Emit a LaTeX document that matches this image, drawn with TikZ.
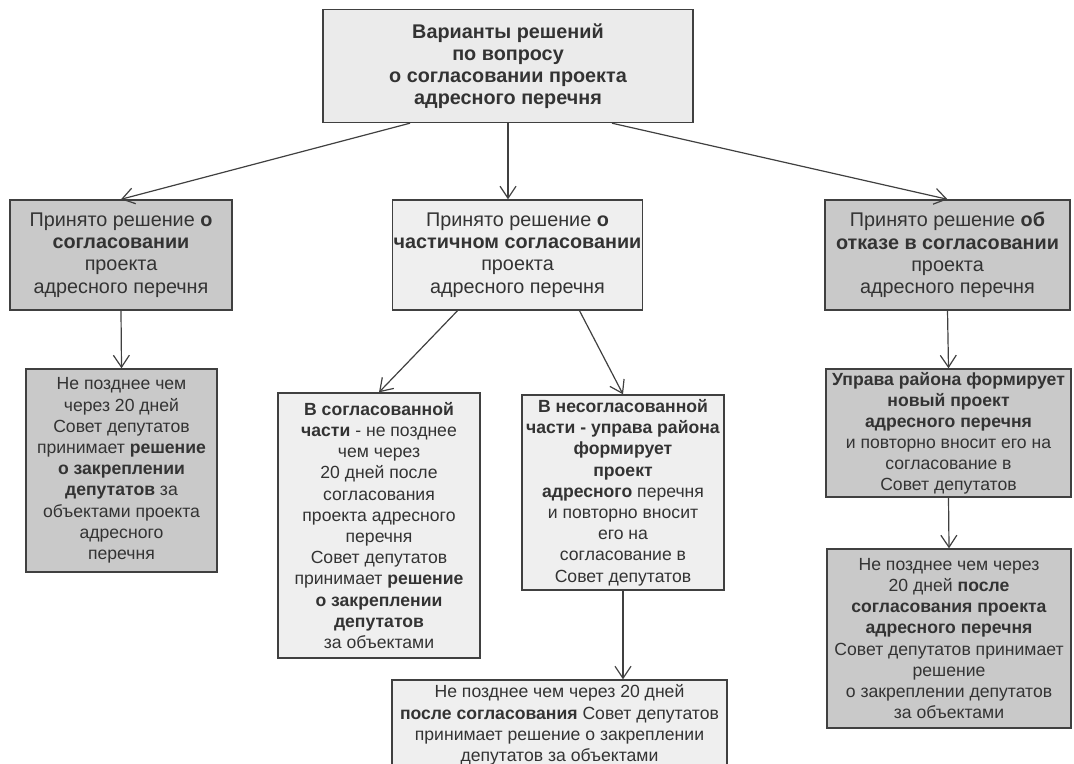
\documentclass[tikz,border=0pt]{standalone}
\usepackage{fontspec}
\setmainfont{Liberation Sans}
\usepackage{tikz}
\usetikzlibrary{arrows.meta,positioning,calc}
\definecolor{darkfill}{HTML}{C9C9C9}
\definecolor{lightfill}{HTML}{EFEFEF}
\definecolor{headfill}{HTML}{EBEBEB}
\definecolor{edge}{HTML}{404040}
\definecolor{ink}{HTML}{333333}

\begin{document}
\begin{tikzpicture}[x=0.5pt,y=-0.5pt,>={Straight Barb[length=6pt,width=8pt]},
 base/.style={draw=edge,line width=0.7pt,align=center,inner xsep=0.5pt,inner ysep=1pt,text=ink},
 head/.style={base,fill=headfill,font=\fontsize{9.9}{11}\selectfont\bfseries},
 dark/.style={base,fill=darkfill},
 light/.style={base,fill=lightfill},
 upper/.style={font=\fontsize{9.9}{11.2}\selectfont},
 lower/.style={font=\fontsize{8.8}{10.6}\selectfont},
 arr/.style={->,draw=edge,line width=0.6pt}]
\useasboundingbox (0,0) rectangle (1074,764);
\clip (0,0) rectangle (1074,764);
\node[head,minimum width=185pt,minimum height=56.5pt] (top) at (508,66)
 {Варианты решений\\по вопросу\\о согласовании проекта\\адресного перечня};
% first level
\node[dark,upper,minimum width=111pt,minimum height=55pt] (l1) at (121,255)
 {Принято решение \textbf{о}\\\textbf{согласовании}\\проекта\\адресного перечня};
\node[light,upper,minimum width=122.5pt,minimum height=55pt] (m1) at (517.5,255)
 {Принято решение \textbf{о}\\\textbf{частичном согласовании}\\проекта\\адресного перечня};
\node[dark,upper,minimum width=122.5pt,minimum height=55pt] (r1) at (947.5,255)
 {Принято решение \textbf{об}\\\textbf{отказе в согласовании}\\проекта\\адресного перечня};
% second level
\node[dark,lower,minimum width=95.5pt,minimum height=101.5pt] (l2) at (121.5,470.5)
 {Не позднее чем\\через 20 дней\\Совет депутатов\\принимает \textbf{решение}\\\textbf{о закреплении}\\\textbf{депутатов} за\\объектами проекта\\адресного\\перечня};
\node[light,lower,minimum width=101pt,minimum height=132.5pt] (m2a) at (379,525.5)
 {\textbf{В согласованной}\\\textbf{части} - не позднее\\чем через\\20 дней после\\согласования\\проекта адресного\\перечня\\Совет депутатов\\принимает \textbf{решение}\\\textbf{о закреплении}\\\textbf{депутатов}\\за объектами};
\node[light,lower,minimum width=101pt,minimum height=97.5pt] (m2b) at (623,492.5)
 {\textbf{В несогласованной}\\\textbf{части - управа района}\\\textbf{формирует}\\\textbf{проект}\\\textbf{адресного} перечня\\и повторно вносит\\его на\\согласование в\\Совет депутатов};
\node[dark,lower,font=\fontsize{8.8}{10.5}\selectfont,minimum width=122.5pt,minimum height=64pt] (r2) at (948.5,433)
 {\textbf{Управа района формирует}\\\textbf{новый проект}\\\textbf{адресного перечня}\\и повторно вносит его на\\согласование в\\Совет депутатов};
\node[dark,lower,minimum width=122pt,minimum height=89.5pt] (r3) at (949,638.5)
 {Не позднее чем через\\20 дней \textbf{после}\\\textbf{согласования проекта}\\\textbf{адресного перечня}\\Совет депутатов принимает\\решение\\о закреплении депутатов\\за объектами};
\node[light,lower,minimum width=167.5pt,minimum height=45pt] (m3) at (559.5,725)
 {Не позднее чем через 20 дней\\\textbf{после согласования} Совет депутатов\\принимает решение о закреплении\\депутатов за объектами};
% connectors
\draw[arr] ([xshift=-49pt]top.south) -- (l1.north);
\draw[arr] (top.south) -- (top.south |- m1.north);
\draw[arr] ([xshift=52pt]top.south) -- (r1.north);
\draw[arr] (l1.south) -- (l2.north);
\draw[arr] ([xshift=-30pt]m1.south) -- (m2a.north);
\draw[arr] ([xshift=31pt]m1.south) -- (m2b.north);
\draw[arr] (m2b.south) -- (m2b.south |- m3.north);
\draw[arr] (r1.south) -- (r2.north);
\draw[arr] (r2.south) -- (r3.north);
\end{tikzpicture}
\end{document}
